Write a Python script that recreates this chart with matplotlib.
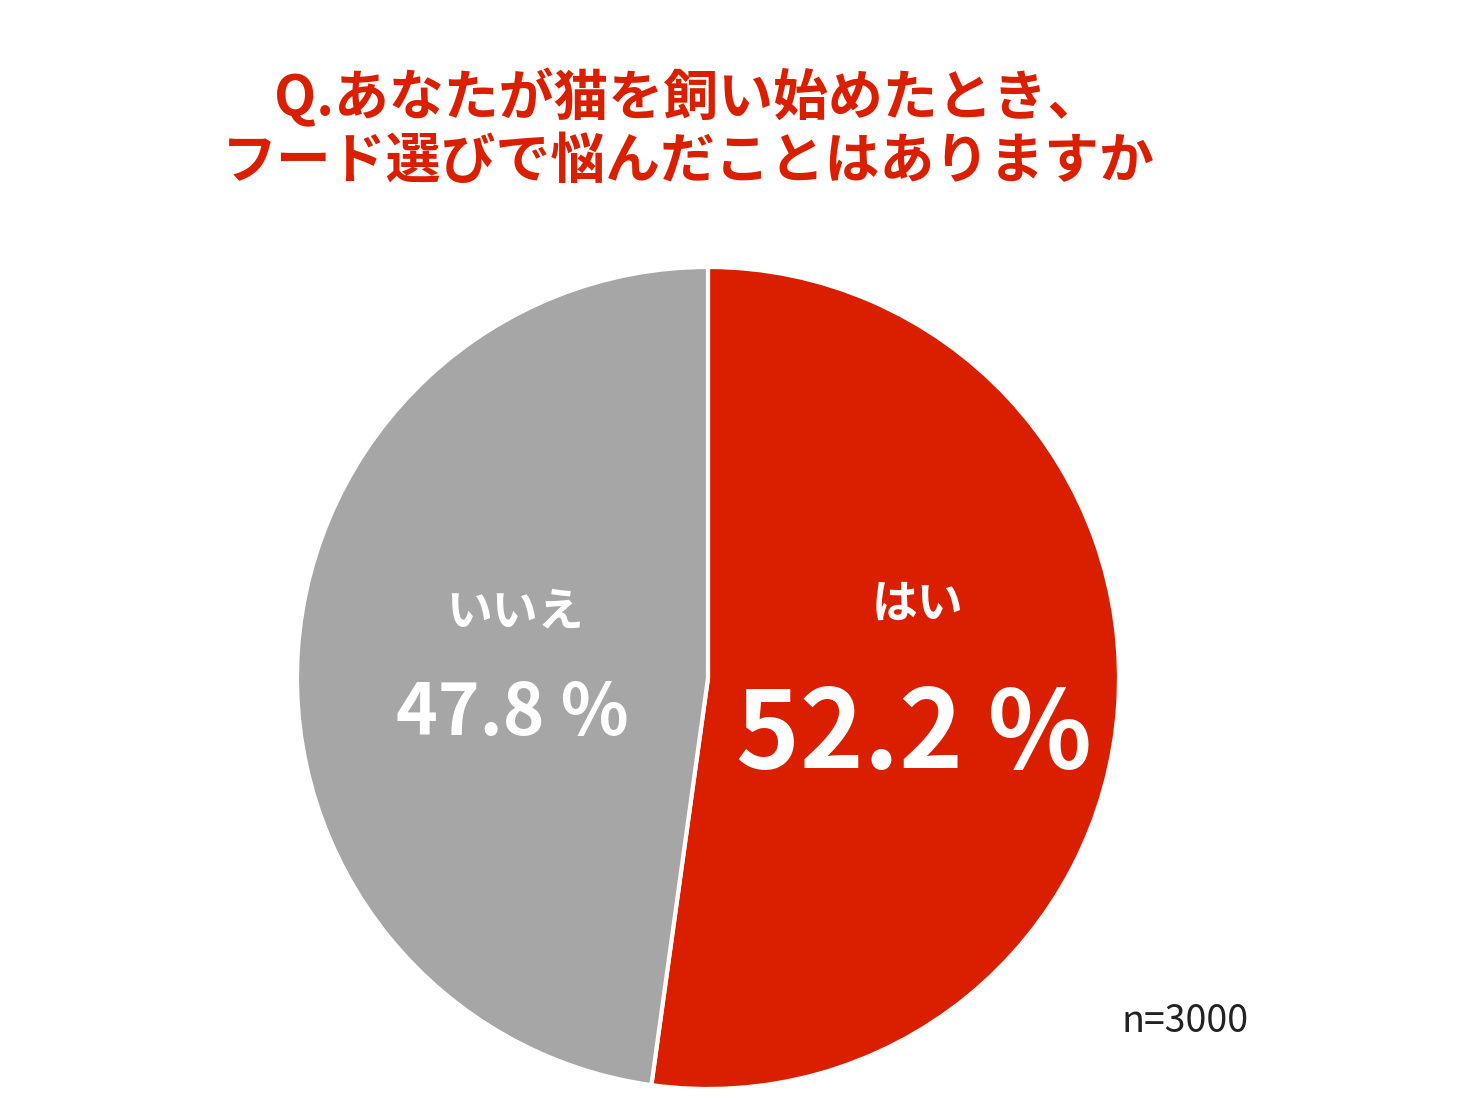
import matplotlib
matplotlib.use('Agg')
import matplotlib.pyplot as plt

plt.rcParams['font.family'] = ['Noto Sans CJK JP', 'DejaVu Sans']

# data
labels = ['はい', 'いいえ']
values = [52.2, 47.8]
colors = ['#DA1F00', '#A6A6A6']
title = 'Q.あなたが猫を飼い始めたとき、\nフード選びで悩んだことはありますか'
n_note = 'n=3000'

W, H = 1461, 1119
fig = plt.figure(figsize=(W / 100, H / 100), dpi=100)
ax = fig.add_axes([0, 0, 1, 1])

cx, cy, r = 708, H - 678, 411
ax.pie(values, colors=colors, startangle=90, counterclock=False,
       center=(cx, cy), radius=r, frame=True,
       wedgeprops=dict(edgecolor='white', linewidth=3))
ax.set_xlim(0, W)
ax.set_ylim(0, H)
ax.axis('off')

# slice labels
ax.text(918, H - 605, labels[0], color='white', fontsize=33, fontweight='bold',
        ha='center', va='center')
ax.text(914, H - 737, f'{values[0]} %', color='white', fontsize=78, fontweight='bold',
        ha='center', va='center')
ax.text(515, H - 612, labels[1], color='white', fontsize=33, fontweight='bold',
        ha='center', va='center')
ax.text(512, H - 714, f'{values[1]} %', color='white', fontsize=51, fontweight='bold',
        ha='center', va='center')

ax.text(688, H - 129, title, color='#DA1F00', fontsize=39.5, fontweight='bold',
        ha='center', va='center', linespacing=1.12)
ax.text(1185, H - 1022, n_note, color='#222222', fontsize=27, ha='center', va='center')

fig.savefig('out.png', dpi=100)
